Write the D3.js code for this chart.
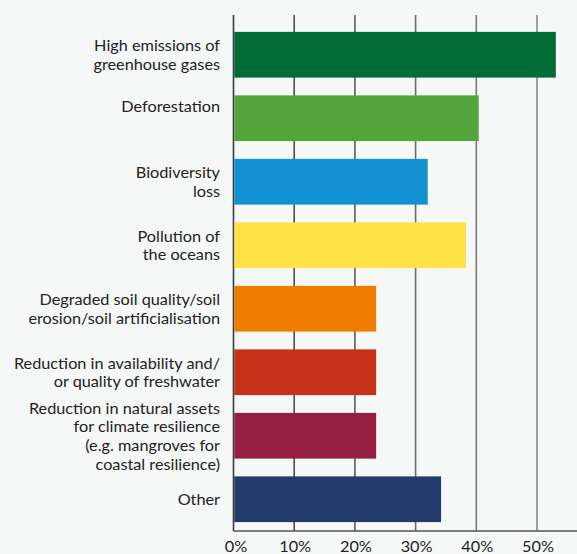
<!DOCTYPE html>
<html>
<head>
<meta charset="utf-8">
<script src="https://cdn.jsdelivr.net/npm/d3@7"></script>
<style>
    html, body { margin: 0; padding: 0; background: #f6f8f7; }
    svg { display: block; }
    .label { font-family: Lato, sans-serif; font-size: 16.25px; fill: #222; }
</style>
</head>
<body>
<div id="chart"></div>
<script>
// chart data
var categories = [
    'High emissions of\ngreenhouse gases',
    'Deforestation',
    'Biodiversity\nloss',
    'Pollution of\nthe oceans',
    'Degraded soil quality/soil\nerosion/soil artificialisation',
    'Reduction in availability and/\nor quality of freshwater',
    'Reduction in natural assets\nfor climate resilience\n(e.g. mangroves for\ncoastal resilience)',
    'Other'
];
var values = [53.1, 40.4, 32.0, 38.3, 23.5, 23.5, 23.5, 34.2];
var barColors = ['#016b38', '#52a53a', '#1191d1', '#ffe243', '#ef7d00', '#c63219', '#951e42', '#233a6c'];
var tickValues = [0, 10, 20, 30, 40, 50];

var view = { width: 577, height: 554 };
var margin = { left: 233.5, top: 15, bottom: 531 };

var svg = d3.select('#chart')
    .append('svg')
    .attr('width', view.width)
    .attr('height', view.height);

var x = d3.scaleLinear().domain([0, 10]).range([margin.left, margin.left + 60.7]);
var y = d3.scaleBand()
    .domain(d3.range(categories.length))
    .range([23, margin.bottom])
    .paddingInner(0.28)
    .paddingOuter(0.14);

// grid lines get lighter towards the right, like the original
var gridColor = d3.scaleLinear().domain([0, 50]).range(['#3c3c3c', '#8a8a8a']);

svg.append('g')
    .selectAll('line')
    .data(tickValues)
    .enter()
    .append('line')
    .attr('x1', function(d) { return x(d); })
    .attr('x2', function(d) { return x(d); })
    .attr('y1', margin.top)
    .attr('y2', margin.bottom)
    .style('stroke', function(d) { return gridColor(d); })
    .style('stroke-width', 1.6);

// baseline
svg.append('line')
    .attr('x1', margin.left)
    .attr('x2', view.width)
    .attr('y1', margin.bottom)
    .attr('y2', margin.bottom)
    .style('stroke', '#555')
    .style('stroke-width', 1.6);

// bars
svg.append('g')
    .selectAll('rect')
    .data(values)
    .enter()
    .append('rect')
    .attr('x', x(0) + 0.8)
    .attr('y', function(d, i) { return y(i); })
    .attr('width', function(d) { return x(d) - x(0) - 0.8; })
    .attr('height', y.bandwidth())
    .style('fill', function(d, i) { return barColors[i]; });

// category labels, right aligned, centred on the bar
var lineHeight = 18.7, capHeight = 11.6;
categories.forEach(function(c, i) {
    var lines = c.split('\n');
    var mid = y(i) + y.bandwidth() / 2;
    if (i === 1) mid -= 12; // "Deforestation" sits high in the original
    var first = mid - ((lines.length - 1) * lineHeight - capHeight) / 2;
    var t = svg.append('text')
        .attr('class', 'label')
        .attr('text-anchor', 'end');
    lines.forEach(function(l, j) {
        t.append('tspan')
            .attr('x', 220)
            .attr('y', first + j * lineHeight)
            .text(l);
    });
});

// x tick labels
svg.append('g')
    .selectAll('text')
    .data(tickValues)
    .enter()
    .append('text')
    .attr('class', 'label')
    .attr('text-anchor', 'middle')
    .attr('x', function(d) { return d === 0 ? x(d) + 2.5 : x(d) + 1; })
    .attr('y', 551.5)
    .text(function(d) { return d + '%'; });
</script>
</body>
</html>
